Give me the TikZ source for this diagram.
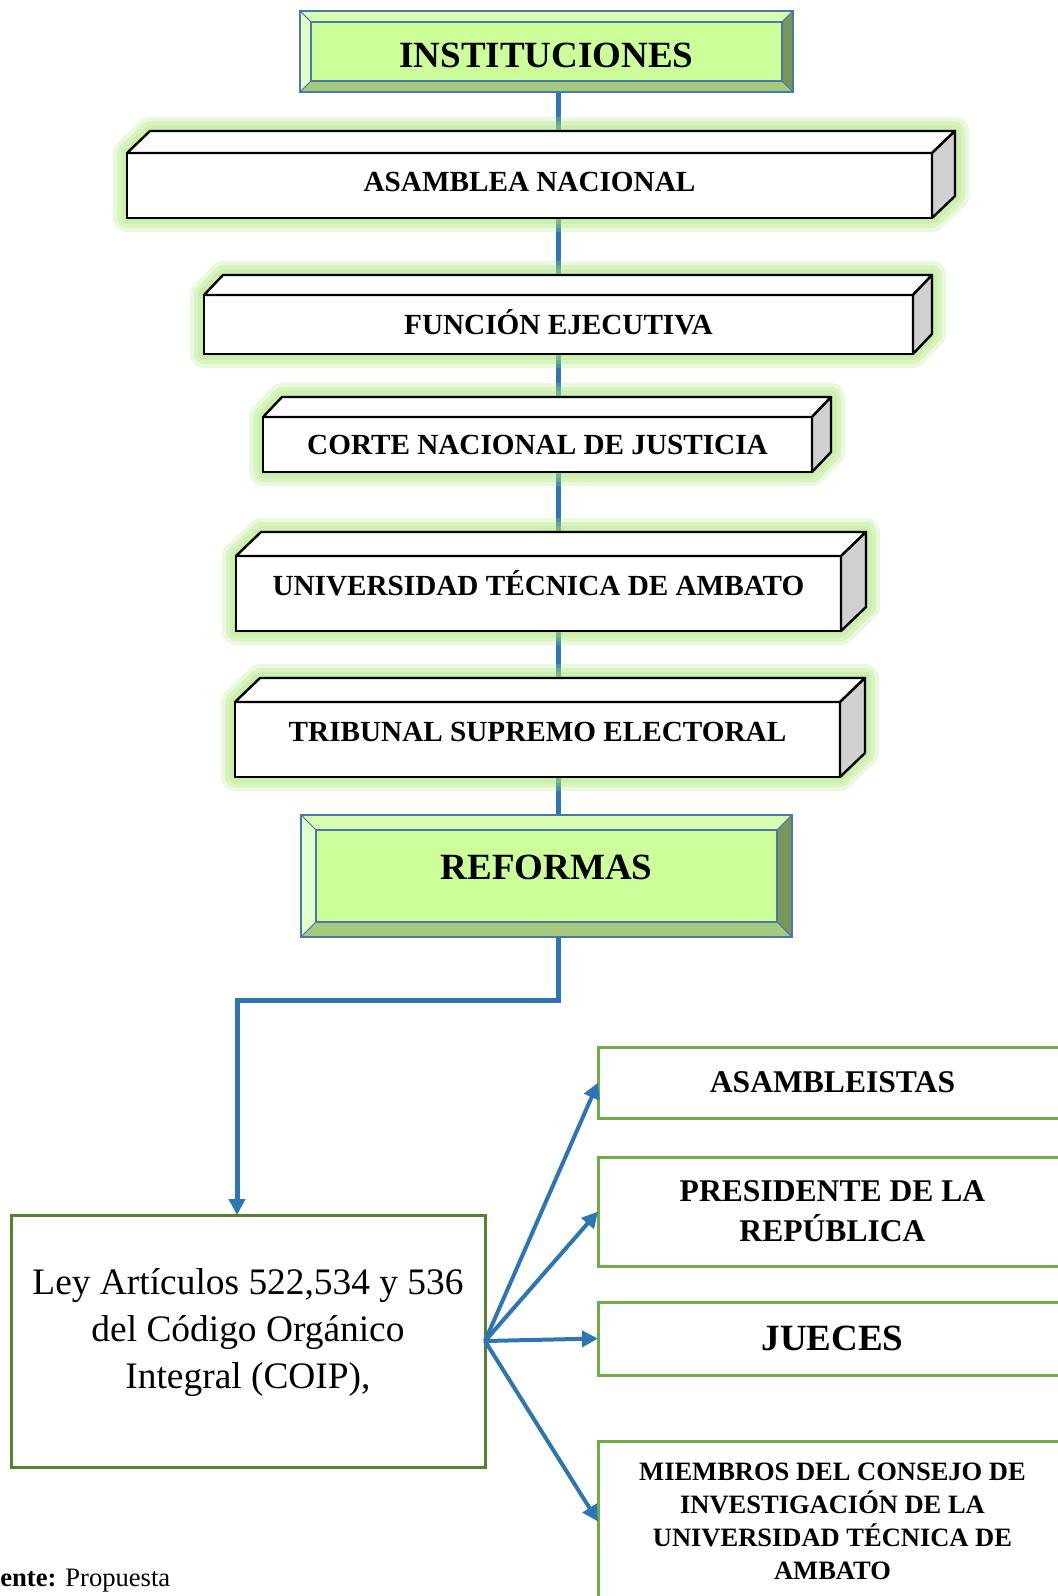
\documentclass[tikz,border=0pt]{standalone}
\usepackage{fontspec}
\setmainfont{Liberation Serif}
\usetikzlibrary{positioning,arrows.meta,backgrounds}

\definecolor{bevfill}{HTML}{CCFF99}
\definecolor{bevtop}{HTML}{D8FFB0}
\definecolor{bevleft}{HTML}{E3FFCC}
\definecolor{bevright}{HTML}{77965A}
\definecolor{bevbottom}{HTML}{A6CA7C}
\definecolor{bevline}{HTML}{4A78AC}
\definecolor{linkblue}{HTML}{2E75B6}
\definecolor{glowgreen}{RGB}{168,230,115}
\definecolor{sidegray}{HTML}{D0D0D0}
\definecolor{leygreen}{HTML}{548235}
\definecolor{actgreen}{HTML}{70AD47}

\newcommand{\depthlist}{asam/11.5pt/11pt, func/9.5pt/10pt, corte/9.5pt/10pt, uta/12.5pt/12pt, tse/12.5pt/12pt}

\tikzset{
  bevel/.style={draw=bevline, line width=1.2pt, fill=bevfill, inner sep=0pt, outer sep=0pt,
    font=\bfseries\fontsize{18.5}{22}\selectfont, text height=12.25pt, text depth=0pt,
    path picture={
      \path (path picture bounding box.north west) coordinate (pnw)
            (path picture bounding box.south east) coordinate (pse);
      \path (pnw) ++(#1,-#1) coordinate (qnw) (pse) ++(-#1,#1) coordinate (qse);
      \filldraw[fill=bevtop, draw=bevline, line width=.5pt] (pnw) -- (pnw -| pse) -- (qnw -| qse) -- (qnw) -- cycle;
      \filldraw[fill=bevleft, draw=bevline, line width=.5pt] (pnw) -- (qnw) -- (qnw |- qse) -- (pnw |- pse) -- cycle;
      \filldraw[fill=bevright, draw=bevline, line width=.5pt] (pnw -| pse) -- (pse) -- (qse) -- (qnw -| qse) -- cycle;
      \filldraw[fill=bevbottom, draw=bevline, line width=.5pt] (pnw |- pse) -- (pse) -- (qse) -- (qnw |- qse) -- cycle;
      \draw[bevline, line width=1.2pt] (qnw) rectangle (qse);
    }},
  block/.style={draw=black, line width=1.2pt, fill=white, inner sep=0pt, outer sep=0pt,
    font=\bfseries\fontsize{14.6}{17}\selectfont, text height=10pt, text depth=0pt},
  face/.style={draw=black, line width=1.2pt, fill=white, line join=round},
  glow/.style={glowgreen, opacity=.25, line join=round},
  link/.style={linkblue, line width=2.5pt},
  arr/.style={linkblue, line width=2pt, -{Triangle[length=8pt,width=8pt]}},
  ley/.style={draw=leygreen, line width=1.5pt, fill=white, minimum width=237pt, outer sep=0pt,
    minimum height=126pt, font=\fontsize{18.7}{23.5}\selectfont},
  actor/.style={draw=actgreen, line width=1.5pt, fill=white, minimum width=234.5pt,
    align=center, inner sep=0pt, outer sep=0pt}
}

\begin{document}
\begin{tikzpicture}[x=0.5pt,y=-0.5pt]
  \useasboundingbox (0,0) rectangle (1058,1596);

  % Nodes
  \node[bevel=5.5pt, minimum width=246.5pt, minimum height=40.5pt, text height=15.75pt] (inst) at (546.5,51.5) {INSTITUCIONES};

  \node[block, below = 30.5pt of inst, xshift=-8.5pt, minimum width=402.5pt, minimum height=32.5pt, text depth=4pt] (asam) {ASAMBLEA NACIONAL};
  \node[block, below = 38.5pt of asam, xshift=14.5pt, minimum width=354.5pt, minimum height=29.5pt] (func) {FUNCIÓN EJECUTIVA};
  \node[block, below = 31.5pt of func, xshift=-10.5pt, minimum width=274.5pt, minimum height=27.5pt] (corte) {CORTE NACIONAL DE JUSTICIA};
  \node[block, below = 42pt of corte, xshift=.5pt, minimum width=302.5pt, minimum height=37.5pt, text depth=8.5pt] (uta) {UNIVERSIDAD TÉCNICA DE AMBATO};
  \node[block, below = 35.5pt of uta, xshift=-.5pt, minimum width=302.5pt, minimum height=37.5pt, text depth=8.5pt] (tse) {TRIBUNAL SUPREMO ELECTORAL};

  \node[bevel=7.5pt, below = 19pt of tse, xshift=4.5pt, minimum width=245.5pt, minimum height=61pt, text depth=9pt] (refo) {REFORMAS};

  \node[ley] (ley) at (248,1341) {\raisebox{0pt}[0pt][0pt]{\begin{tabular}{@{}c@{}}Ley Artículos 522,534 y 536\\del Código Orgánico\\Integral (COIP),\end{tabular}}};

  \node[actor, minimum height=35.5pt, font=\bfseries\fontsize{15.8}{20}\selectfont] (asmb) at (832.5,1082.5) {ASAMBLEISTAS};
  \node[actor, below = 19.5pt of asmb, minimum height=54.5pt, font=\bfseries\fontsize{15.8}{20}\selectfont] (pres) {PRESIDENTE DE LA\\REPÚBLICA};
  \node[actor, below = 18pt of pres, minimum height=36.5pt, font=\bfseries\fontsize{18.5}{22}\selectfont] (jue) {JUECES};
  \node[actor, below = 33pt of jue, minimum height=80.5pt, font=\bfseries\fontsize{13.25}{16.5}\selectfont] (miem) {MIEMBROS DEL CONSEJO DE\\INVESTIGACIÓN DE LA\\UNIVERSIDAD TÉCNICA DE\\AMBATO};

  \node[anchor=base west, inner sep=0pt, font=\fontsize{13.3}{16}\selectfont] (fuente) at (0,1586) {\textbf{ente:} Propuesta};

  % Box faces
  \foreach \n/\dx/\dy in \depthlist {
    \draw[face] (\n.north west) -- ++(\dx,\dy) -- ([shift={(\dx,\dy)}]\n.north east) -- (\n.north east) -- cycle;
    \draw[face, fill=sidegray] (\n.north east) -- ++(\dx,\dy) -- ([shift={(\dx,\dy)}]\n.south east) -- (\n.south east) -- cycle;
  }

  % Edges
  \begin{pgfonlayer}{background}
    \draw[link] ([xshift=5.75pt]inst.south) -- ([xshift=5.75pt]refo.north);
    \foreach \n/\dx/\dy in \depthlist
      \foreach \w in {14pt,10pt,6pt,2pt}
        \draw[glow, line width=\w] (\n.south west) -- (\n.north west) -- ++(\dx,\dy)
          -- ([shift={(\dx,\dy)}]\n.north east) -- ([shift={(\dx,\dy)}]\n.south east)
          -- (\n.south east) -- cycle;
  \end{pgfonlayer}

  \draw[link, -{Triangle[length=8pt,width=8pt]}] ([xshift=5.75pt]refo.south) -- ++(0pt,-31.5pt) -| ([xshift=-5.5pt]ley.north);

  \draw[arr] (ley.east) -- (asmb.west);
  \draw[arr] (ley.east) -- (pres.west);
  \draw[arr] (ley.east) -- (jue.west);
  \draw[arr] (ley.east) -- (miem.west);
\end{tikzpicture}
\end{document}
